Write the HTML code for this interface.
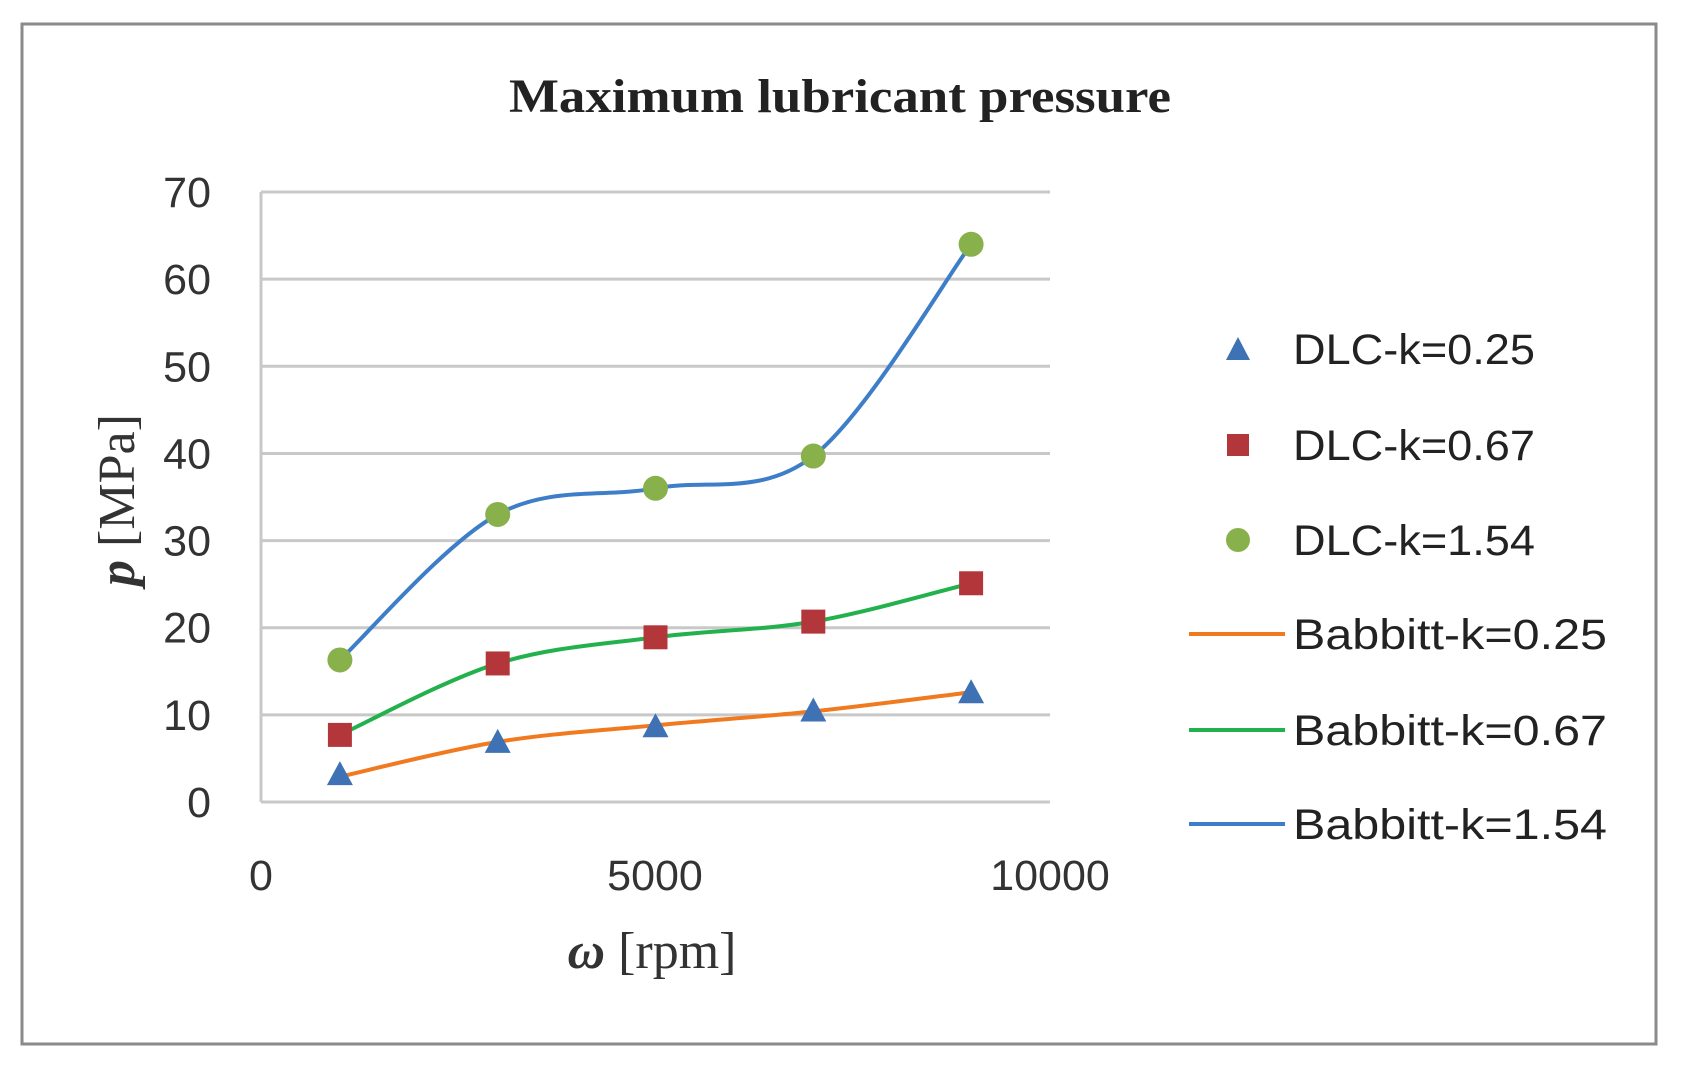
<!DOCTYPE html>
<html><head><meta charset="utf-8"><style>
html,body{margin:0;padding:0;background:#fff;width:1684px;height:1068px;overflow:hidden}
</style></head><body>
<svg id="s" width="1684" height="1068" xmlns="http://www.w3.org/2000/svg" font-family="Liberation Sans, sans-serif">
<rect x="0" y="0" width="1684" height="1068" fill="#fff"/>
<rect x="22" y="24" width="1634" height="1020" fill="#fff" stroke="#8a8a8a" stroke-width="3"/>
<text x="840" y="112" text-anchor="middle" font-family="Liberation Serif, serif" font-weight="bold" font-size="48" textLength="662" lengthAdjust="spacingAndGlyphs" fill="#222">Maximum lubricant pressure</text>
<g id="grid" stroke="#c8c8c8" stroke-width="3"></g>
<g id="ylab" font-size="43" fill="#333" text-anchor="end"></g>
<g font-size="43" fill="#333" text-anchor="middle">
<text x="261" y="890">0</text><text x="655" y="890">5000</text><text x="1050" y="890">10000</text>
</g>
<text x="652" y="968" text-anchor="middle" font-family="Liberation Serif, serif" font-size="52" fill="#333"><tspan font-style="italic" font-weight="bold">ω</tspan> [rpm]</text>
<text transform="translate(134,500) rotate(-90)" text-anchor="middle" font-family="Liberation Serif, serif" font-size="52" fill="#333"><tspan font-style="italic" font-weight="bold">p</tspan> [MPa]</text>
<g id="series"></g>
<g font-size="43" fill="#222">
<polygon points="1238,337 1226,360 1250,360" fill="#3e72b5"/>
<text x="1293" y="364" textLength="242" lengthAdjust="spacingAndGlyphs">DLC-k=0.25</text>
<rect x="1227" y="434" width="22" height="22" fill="#b3373a"/>
<text x="1293" y="460" textLength="242" lengthAdjust="spacingAndGlyphs">DLC-k=0.67</text>
<circle cx="1238" cy="540" r="12" fill="#88b04b"/>
<text x="1293" y="555" textLength="242" lengthAdjust="spacingAndGlyphs">DLC-k=1.54</text>
<line x1="1189" y1="634" x2="1285" y2="634" stroke="#f07a20" stroke-width="4"/>
<text x="1293" y="649" textLength="314" lengthAdjust="spacingAndGlyphs">Babbitt-k=0.25</text>
<line x1="1189" y1="730" x2="1285" y2="730" stroke="#22b14c" stroke-width="4"/>
<text x="1293" y="745" textLength="314" lengthAdjust="spacingAndGlyphs">Babbitt-k=0.67</text>
<line x1="1189" y1="824" x2="1285" y2="824" stroke="#3e7ec8" stroke-width="4"/>
<text x="1293" y="839" textLength="314" lengthAdjust="spacingAndGlyphs">Babbitt-k=1.54</text>
</g>
</svg>
<script>
var NS="http://www.w3.org/2000/svg";
function X(v){return 261+(v/10000)*789;}
function Y(v){return 802-v*8.714;}
function el(t,a,p){var e=document.createElementNS(NS,t);for(var k in a)e.setAttribute(k,a[k]);p.appendChild(e);return e;}
var g=document.getElementById("grid"),yl=document.getElementById("ylab"),s=document.getElementById("series");
for(var i=0;i<=7;i++){var y=Y(i*10);el("line",{x1:261,x2:1050,y1:y,y2:y},g);var t=el("text",{x:211,y:y+15},yl);t.textContent=i*10;}
el("line",{x1:261,x2:261,y1:Y(70),y2:Y(0)},g);
var xs=[1000,3000,5000,7000,9000];
function curve(vals,col){var p=xs.map(function(x,i){return [X(x),Y(vals[i])];});
var d="M"+p[0][0]+","+p[0][1];
for(var i=0;i<p.length-1;i++){var p0=p[Math.max(i-1,0)],p1=p[i],p2=p[i+1],p3=p[Math.min(i+2,p.length-1)];
var c1=[p1[0]+(p2[0]-p0[0])/6,p1[1]+(p2[1]-p0[1])/6],c2=[p2[0]-(p3[0]-p1[0])/6,p2[1]-(p3[1]-p1[1])/6];
d+=" C"+c1+" "+c2+" "+p2;}
el("path",{d:d,fill:"none",stroke:col,"stroke-width":4},s);}
curve([2.9,6.9,8.8,10.4,12.6],"#f07a20");
curve([7.7,15.9,18.9,20.7,25.1],"#22b14c");
curve([16.3,33,36,39.7,64],"#3e7ec8");
var tri=[3.2,6.9,8.7,10.5,12.6],sq=[7.7,15.9,18.9,20.7,25.1],ci=[16.3,33,36,39.7,64];
xs.forEach(function(x,i){var cx=X(x);
var cy=Y(tri[i]);el("polygon",{points:cx+","+(cy-13)+" "+(cx-13)+","+(cy+11)+" "+(cx+13)+","+(cy+11),fill:"#3e72b5"},s);
cy=Y(sq[i]);el("rect",{x:cx-12,y:cy-12,width:24,height:24,fill:"#b3373a"},s);
cy=Y(ci[i]);el("circle",{cx:cx,cy:cy,r:12.5,fill:"#88b04b"},s);});
</script>
</body></html>
